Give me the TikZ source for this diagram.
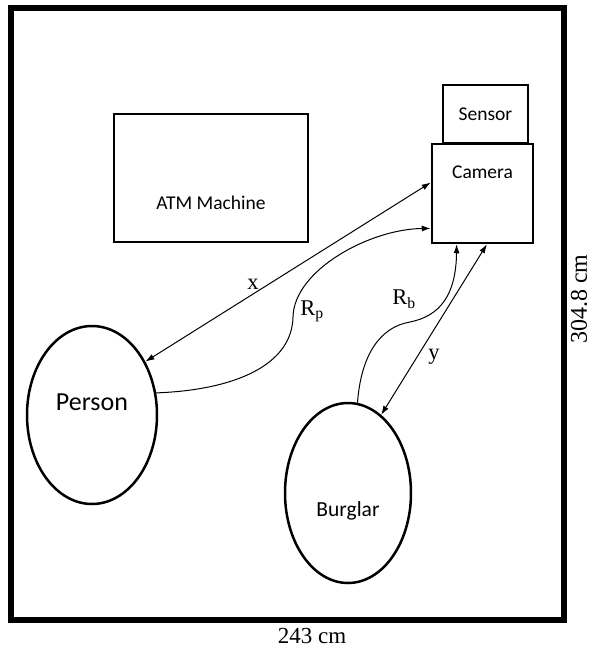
\documentclass[tikz,border=0pt]{standalone}
\usepackage{fontspec}
\setmainfont{Liberation Serif}
\newfontfamily\calib{Carlito}
\usetikzlibrary{shapes.geometric,arrows.meta}
\tikzset{box/.style = {draw,rectangle,line width=2.5pt,inner sep=0pt}}
\tikzset{blob/.style = {draw,ellipse,line width=2.5pt,inner sep=0pt}}
\tikzset{cal/.style = {font=\calib\fontsize{19.5}{23}\selectfont}}
\tikzset{lbl/.style = {font=\fontsize{22.5}{26}\selectfont,inner sep=0pt}}
\tikzset{con/.style = {line width=1pt,>={Latex[length=9pt,width=6pt]}}}

\begin{document}
\begin{tikzpicture}[x=1pt,y=-1pt]
      \useasboundingbox (0,0) rectangle (592,649);
      \draw[line width=6pt] (11,8) rectangle (564,620);

      \node[box,minimum width=194,minimum height=128,
        label={[cal,yshift=-25pt,name=atmtxt]center:ATM Machine}] (atm) at (211,178) {};
      \node[box,minimum width=85,minimum height=58,cal] (sensor) at (485.5,114) {Sensor};
      \node[box,minimum width=101,minimum height=99,
        label={[cal,yshift=21.5pt,name=camtxt]center:Camera}] (camera) at (482.5,193.5) {};
      \node[blob,minimum width=130,minimum height=178,
        label={[cal,font=\calib\fontsize{26}{30}\selectfont,yshift=13pt,name=pertxt]center:Person}] (person) at (92,415) {};
      \node[blob,minimum width=126,minimum height=180,
        label={[cal,font=\calib\fontsize{21.5}{25}\selectfont,yshift=-18pt,name=burtxt]center:Burglar}] (burglar) at (348,493) {};

      \node[lbl] (xl) at (253,284) {x};
      \node[lbl] (yl) at (434,357) {y};
      \node[lbl] (rp) at (312,311) {R\textsubscript{p}};
      \node[lbl] (rb) at (404,299) {R\textsubscript{b}};

      \node[font=\fontsize{23}{26}\selectfont,inner sep=0pt] (width) at (312,636) {243 cm};
      \node[font=\fontsize{24}{28}\selectfont,inner sep=0pt,rotate=90] (height) at (579,299) {304.8 cm};

 \foreach \a/\b in {camera.168/person.45,camera.275/burglar.67}
   \draw[con,<->] (\a) -- (\b);

 \draw[con,->] (person.19) .. controls (235,390) and (292,365) .. (293,317)
   .. controls (294,270) and (370,229) .. (camera.214);
 \draw[con,->] (burglar.84) .. controls (361,355) and (380,327) .. (410,322)
   .. controls (440,316) and (456,295) .. (camera.243);

\end{tikzpicture}
\end{document}
